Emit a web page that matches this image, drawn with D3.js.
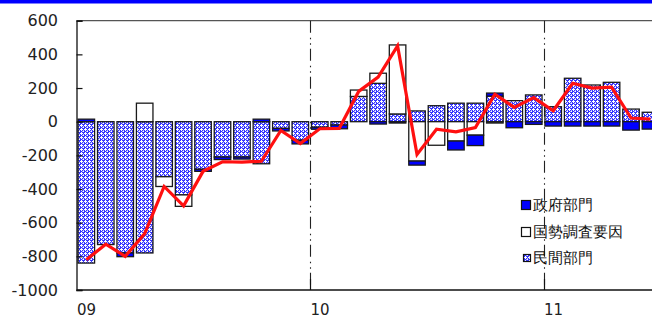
<!DOCTYPE html>
<html><head><meta charset="utf-8">
<script src="https://cdn.jsdelivr.net/npm/d3@7"></script>
<style>
html,body{margin:0;padding:0;background:#fff;overflow:hidden}
svg{display:block}
text{font-family:"DejaVu Sans",Verdana,sans-serif}
</style></head>
<body>
<svg id="c" width="652" height="320"></svg>
<script>
// --- data (monthly, Jan 2009 - Jun 2011) ---
const yearLabels = ["09", "10", "11"];
const seriesNames = ["民間部門", "国勢調査要因", "政府部門"];
const privateSector = [-840, -730, -780, -780, -327, -435, -283, -210, -210, -250, -40, -110,
                       -33, -20, 150, 228, 46, 64, 95, 110, 110, 152, 125, 159,
                       89, 258, 218, 234, 75, 56];
const censusFactor  = [0, 0, 0, 110, -58, -68, 0, 0, 0, 0, 0, 0,
                       0, 0, 38, 60, 410, -234, -140, -115, -80, -8, 0, 0,
                       0, 0, 0, 0, 0, 0];
const government    = [15, 0, -22, 0, 0, 0, -12, -15, -12, 15, -15, -22,
                       -12, -22, 0, -14, -8, -24, 0, -53, -62, 18, -36, -16,
                       -26, -26, -26, -26, -50, -44];
const total         = [-820, -728, -800, -665, -385, -500, -295, -238, -240, -235, -52, -130,
                       -42, -40, 180, 265, 450, -195, -45, -60, -35, 163, 85, 143,
                       65, 228, 200, 205, 22, 15];
const yTicks = [600, 400, 200, 0, -200, -400, -600, -800, -1000];

(function () {
const svg = d3.select("#c");
const W = 652;
const pL = 76.5, pT = 20.7, pB = 290;
const step = 19.46;
const n = privateSector.length;
const idx = d3.range(n);

const x = d3.scaleBand().domain(idx).range([pL, pL + n * step]).paddingInner(0.15).paddingOuter(0.08);
const y = d3.scaleLinear().domain([-1000, 600]).range([pB, pT]);

// pattern
const defs = svg.append("defs");
const pat = defs.append("pattern").attr("id", "hatch").attr("patternUnits", "userSpaceOnUse")
  .attr("width", 4).attr("height", 4);
pat.append("rect").attr("width", 4).attr("height", 4).attr("fill", "#3535ff");
[[1,0],[0,1],[1,1],[2,1],[1,2],[3,3]].forEach(([a,b]) =>
  pat.append("rect").attr("x", a).attr("y", b).attr("width", 1).attr("height", 1).attr("fill", "#ffffff"));
[[3,2],[2,3]].forEach(([a,b]) =>
  pat.append("rect").attr("x", a).attr("y", b).attr("width", 1).attr("height", 1).attr("fill", "#b0b0ff"));

// top blue band
svg.append("rect").attr("x", 0).attr("y", 0).attr("width", W).attr("height", 3.5).attr("fill", "#0000ff");

// frame top
svg.append("line").attr("x1", pL).attr("x2", W).attr("y1", pT).attr("y2", pT).attr("stroke", "#555").attr("stroke-width", 1.3);

// year separators (dash-dot-dot)
[12, 24].forEach(i => {
  const xx = Math.round(pL + i * step) + 0.5;
  svg.append("line").attr("x1", xx).attr("x2", xx).attr("y1", pT).attr("y2", pB)
    .attr("stroke", "#222").attr("stroke-width", 1.1)
    .attr("stroke-dasharray", "12,5,1.5,4,1.5,4");
  svg.append("line").attr("x1", xx).attr("x2", xx).attr("y1", pB - 11).attr("y2", pB)
    .attr("stroke", "#111").attr("stroke-width", 1.2);
});

// stacked bars
const table = idx.map(i => ({i, p: privateSector[i], c: censusFactor[i], g: government[i]}));
const stack = d3.stack().keys(["p", "c", "g"]).offset(d3.stackOffsetDiverging);
const layers = stack(table);
const fills = {p: "url(#hatch)", c: "#ffffff", g: "#0000ff"};
layers.forEach(layer => {
  svg.append("g").selectAll("rect").data(layer.filter(d => d[1] !== d[0])).join("rect")
    .attr("x", d => x(d.data.i))
    .attr("width", x.bandwidth())
    .attr("y", d => y(Math.max(d[0], d[1])))
    .attr("height", d => Math.abs(y(d[0]) - y(d[1])))
    .attr("fill", fills[layer.key])
    .attr("stroke", "#1a1a1a").attr("stroke-width", 1.3);
});

// total line
const line = d3.line().x((d, i) => x(i) + x.bandwidth() / 2).y(d => y(d));
svg.append("path").datum(total).attr("d", line).attr("fill", "none")
  .attr("stroke", "#ff1010").attr("stroke-width", 3.2).attr("stroke-linejoin", "miter");

// left axis
const yAxis = svg.append("g").attr("transform", `translate(${pL},0)`)
  .call(d3.axisRight(y).tickValues(yTicks).tickSize(6).tickFormat(""));
yAxis.select(".domain").attr("stroke", "#111").attr("stroke-width", 1.3);
yAxis.selectAll(".tick line").attr("stroke", "#111").attr("stroke-width", 1.2);
svg.append("g").selectAll("text").data(yTicks).join("text")
  .attr("x", 58).attr("y", d => y(d)).attr("dy", "0.36em")
  .attr("text-anchor", "end").attr("font-size", 16).attr("fill", "#222")
  .text(d => d);

// bottom axis
svg.append("line").attr("x1", pL).attr("x2", W).attr("y1", pB).attr("y2", pB)
  .attr("stroke", "#111").attr("stroke-width", 1.3);
svg.append("g").selectAll("text").data(yearLabels).join("text")
  .attr("x", (d, k) => pL + k * 12 * step + 0.5).attr("y", 315)
  .attr("text-anchor", "start").attr("font-size", 15).attr("fill", "#222")
  .text(d => d);

// legend
const legendOrder = [
  {name: seriesNames[2], fill: "#0000ff", sx: 521.5, sy: 200.5, s: 9},
  {name: seriesNames[1], fill: "#ffffff", sx: 521.5, sy: 227.5, s: 9},
  {name: seriesNames[0], fill: "url(#hatch)", sx: 523.5, sy: 254.5, s: 7}
];
const lg = svg.append("g");
legendOrder.forEach((d, k) => {
  lg.append("rect").attr("x", d.sx).attr("y", d.sy).attr("width", d.s).attr("height", d.s)
    .attr("fill", d.fill).attr("stroke", "#111").attr("stroke-width", 1.2);
  lg.append("text").attr("x", 532.5).attr("y", 205 + k * 26.2).attr("dy", "0.36em")
    .attr("font-family", "'Noto Sans CJK JP', sans-serif").attr("font-size", 15).attr("fill", "#111")
    .text(d.name);
});
})();
</script>
</body></html>
